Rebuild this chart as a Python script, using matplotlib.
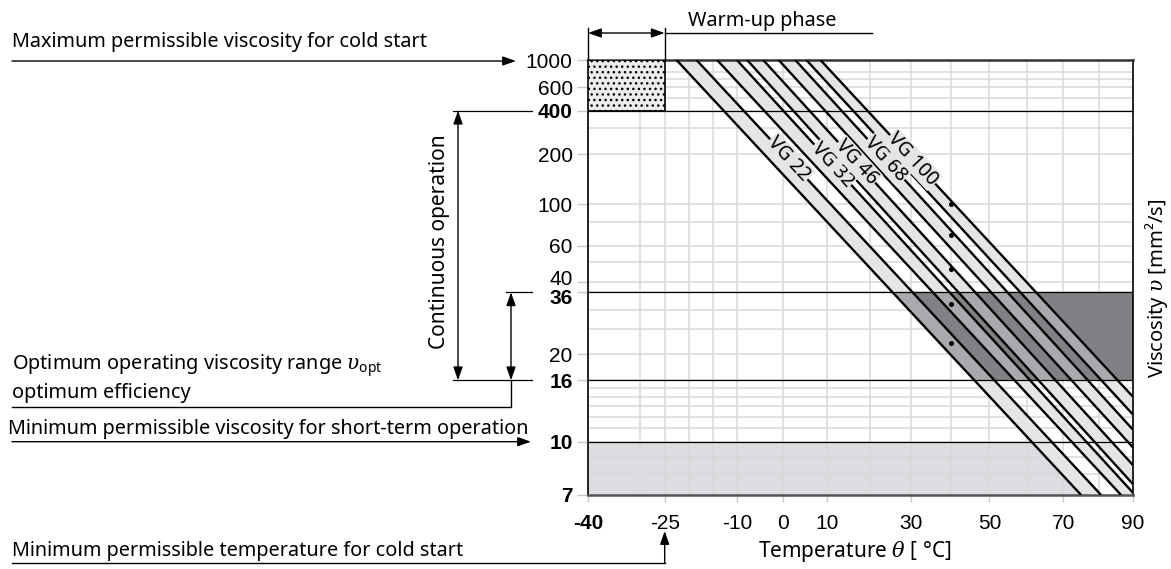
import numpy as np
import matplotlib
matplotlib.use('Agg')
import matplotlib.pyplot as plt
import matplotlib.transforms as mtransforms
from matplotlib.lines import Line2D
from matplotlib.patches import Polygon, FancyArrowPatch

plt.rcParams['font.family'] = ['Noto Sans', 'DejaVu Sans']
plt.rcParams['mathtext.fontset'] = 'custom'
plt.rcParams['mathtext.rm'] = 'Noto Sans'
plt.rcParams['mathtext.sf'] = 'Noto Sans'
plt.rcParams['mathtext.it'] = 'DejaVu Serif:italic'
plt.rcParams['mathtext.bf'] = 'Noto Sans:bold'
plt.rcParams['hatch.linewidth'] = 1.0

# ---- data ----
vg_names = ['VG 22', 'VG 32', 'VG 46', 'VG 68', 'VG 100']
vg_nominal = [22, 32, 46, 68, 100]          # dots at 40 C
dot_temp = 40

# each grade is a band between a lower and an upper edge line
# edge leaves the top of the chart (1000 mm2/s) at this temperature
lo_top = [-22.6, -14.2, -7.8, -0.9, 5.3]
hi_top = [-18.5, -10.0, -4.3, 2.8, 8.5]
# and ends here (temperature, viscosity)
lo_end_t = [75.0, 86.5, 90, 90, 90]
lo_end_v = [7, 7, 7.5, 9.6, 12.2]
hi_end_t = [80.7, 90, 90, 90, 90]
hi_end_v = [7, 7.1, 8.5, 10.9, 14.0]
label_visc = [186, 172, 178, 186, 186]

visc_ticks = [1000, 600, 400, 200, 100, 60, 40, 36, 20, 16, 10, 7]
visc_bold = [400, 36, 16, 10, 7]
visc_grid = [800, 700, 500, 300, 80, 50, 30, 25, 15, 14, 13, 12, 11, 9, 8]
temp_ticks = [-40, -25, -10, 0, 10, 30, 50, 70, 90]
temp_grid = [-30, -20, -15, 20, 40, 60, 80]

v_cold_max = 1000
v_cont_max = 400
v_opt = (16, 36)
v_short_min = 10
v_min = 7
t_min, t_cold, t_max = -40, -25, 90


# Ubbelohde-Walther viscosity scale, log absolute temperature
def walther(v):
    v = np.clip(np.asarray(v, float), 0.35, None)
    return np.log10(np.log10(v + 0.7))


def walther_inv(w):
    return 10 ** (10 ** np.asarray(w, float)) - 0.7


def tlog(t):
    return np.log10(np.clip(np.asarray(t, float), -270, None) + 273.15)


def tlog_inv(u):
    return 10 ** np.asarray(u, float) - 273.15


W, H = 1171, 569
fig = plt.figure(figsize=(W / 100, H / 100), dpi=100)
ax = fig.add_axes([588 / W, 1 - 495 / H, (1133 - 588) / W, (495 - 60) / H])
ax.set_xscale('function', functions=(tlog, tlog_inv))
ax.set_yscale('function', functions=(walther, walther_inv))
ax.set_xlim(t_min, t_max)
ax.set_ylim(v_min, v_cold_max)

# ticks and grid
ax.set_yticks(visc_ticks)
ax.set_yticklabels([str(v) for v in visc_ticks])
ax.set_yticks(visc_grid, minor=True)
ax.set_xticks(temp_ticks)
ax.set_xticklabels([str(t) for t in temp_ticks])
ax.set_xticks(temp_grid, minor=True)
ax.tick_params(which='minor', length=0)
ax.tick_params(axis='y', which='major', length=8, width=1, color='#c8c8c8',
               pad=3, labelsize=15)
ax.tick_params(axis='x', which='major', length=5, width=1, color='#c8c8c8',
               pad=9, labelsize=15)
# small vertical nudges so 40/36 do not collide
nudge = {40: 5, 36: -4}
for tick, v in zip(ax.yaxis.get_major_ticks(), ax.get_yticks()):
    v = int(round(v))
    tick.label1.set_fontfamily('Liberation Sans')
    if v in visc_bold or v == v_cold_max:
        tick.tick1line.set_color('k')
    if v in visc_bold:
        tick.label1.set_fontweight('bold')
    if v in nudge:
        tick.label1.set_transform(tick.label1.get_transform() +
                                  mtransforms.Affine2D().translate(0, nudge[v]))
for tick, t in zip(ax.xaxis.get_major_ticks(), ax.get_xticks()):
    tick.label1.set_fontfamily('Liberation Sans')
    if round(t) == t_min:
        tick.label1.set_fontweight('bold')
        tick.tick1line.set_color('k')
ax.grid(True, which='both', color='#d9d9d9', lw=1.1)
ax.set_axisbelow(True)

for s in ['left', 'right']:
    ax.spines[s].set_color('k')
    ax.spines[s].set_linewidth(1.2)
ax.spines['top'].set_color('#333333')
ax.spines['top'].set_linewidth(1.8)
ax.spines['bottom'].set_color('#555555')
ax.spines['bottom'].set_linewidth(1.8)

# regions left / right of the thinnest oil edge
right_of_first = Polygon([(lo_top[0], v_cold_max), (t_max, v_cold_max), (t_max, v_min),
                          (lo_end_t[0], lo_end_v[0])], transform=ax.transData)
left_of_first = Polygon([(t_min, v_cold_max), (lo_top[0], v_cold_max),
                         (lo_end_t[0], lo_end_v[0]), (t_min, v_min)], transform=ax.transData)
opt_rect = Polygon([(t_min, v_opt[0]), (t_max, v_opt[0]), (t_max, v_opt[1]), (t_min, v_opt[1])],
                   transform=ax.transData)

short = Polygon([(t_min, v_min), (t_max, v_min), (t_max, v_short_min), (t_min, v_short_min)],
                fc='#dcdde0', ec='none', zorder=0.2)
short.set_clip_path(left_of_first)
ax.add_patch(short)

dark = Polygon([(t_min, v_opt[0]), (t_max, v_opt[0]), (t_max, v_opt[1]), (t_min, v_opt[1])],
               fc='#808184', ec='none', zorder=1.5)
dark.set_clip_path(right_of_first)
ax.add_patch(dark)

for i in range(len(vg_names)):
    verts = [(lo_top[i], v_cold_max), (hi_top[i], v_cold_max), (hi_end_t[i], hi_end_v[i])]
    if hi_end_t[i] == t_max and hi_end_v[i] > v_min and lo_end_t[i] < t_max:
        verts.append((t_max, v_min))
    verts.append((lo_end_t[i], lo_end_v[i]))
    ax.add_patch(Polygon(verts, fc='#e4e5e7', ec='none', zorder=1))
    mid = Polygon(verts, fc='#a9aaad', ec='none', zorder=2)
    mid.set_clip_path(opt_rect)
    ax.add_patch(mid)

for v in [v_cont_max, v_opt[1], v_opt[0], v_short_min]:
    ax.axhline(v, color='k', lw=0.9, zorder=2.5)

for i in range(len(vg_names)):
    ax.plot([lo_top[i], lo_end_t[i]], [v_cold_max, lo_end_v[i]], color='k', lw=1.7,
            solid_capstyle='butt', zorder=3)
    ax.plot([hi_top[i], hi_end_t[i]], [v_cold_max, hi_end_v[i]], color='k', lw=1.7,
            solid_capstyle='butt', zorder=3)

ax.plot([dot_temp] * len(vg_nominal), vg_nominal, 'o', ms=2.6, color='k', zorder=4)

# cold start box
ax.add_patch(Polygon([(t_min, v_cont_max), (t_cold, v_cont_max), (t_cold, v_cold_max),
                      (t_min, v_cold_max)], fc='#ececec', ec='k', lw=1.2, hatch='...',
                     zorder=2.6))

# grade labels along the upper edge lines
for i, name in enumerate(vg_names):
    p0 = ax.transData.transform((hi_top[i], v_cold_max))
    p1 = ax.transData.transform((hi_end_t[i], hi_end_v[i]))
    yt = ax.transData.transform((0, label_visc[i]))[1]
    f = (yt - p0[1]) / (p1[1] - p0[1])
    pos = p0 + f * (p1 - p0)
    ang = np.degrees(np.arctan2(p1[1] - p0[1], p1[0] - p0[0]))
    ax.text(pos[0], pos[1], name, transform=mtransforms.IdentityTransform(),
            rotation=ang, rotation_mode='anchor', ha='center', va='center',
            fontsize=14, zorder=5,
            bbox=dict(boxstyle='square,pad=0.05', fc='#e4e5e7', ec='none'))

# ---- annotations outside the axes (image pixel coordinates) ----
T_img = mtransforms.Affine2D().scale(1, -1).translate(0, H)


def yp(v):
    return H - ax.transData.transform((0, v))[1]


def xp(t):
    return ax.transData.transform((t, 10))[0]


def line(xs, ys, lw=1.0):
    fig.add_artist(Line2D(xs, ys, color='k', lw=lw, transform=T_img))


def arrow(a, b, style='-|>'):
    fig.add_artist(FancyArrowPatch(a, b, arrowstyle=style + ',head_length=0.8,head_width=0.28',
                                   mutation_scale=10, color='k', lw=1.0, shrinkA=0, shrinkB=0,
                                   transform=T_img))


def label(x, y, s, **kw):
    kw.setdefault('ha', 'left')
    kw.setdefault('va', 'center')
    kw.setdefault('fontsize', 14.3)
    fig.text(x, y, s, transform=T_img, **kw)


# warm-up phase
label(762, 21, 'Warm-up phase', ha='center')
line([xp(t_cold), 872], [33, 33])
arrow((xp(t_min), 33), (xp(t_cold), 33), '<|-|>')
line([xp(t_min), xp(t_min)], [28, yp(v_cold_max)])
line([xp(t_cold), xp(t_cold)], [28, yp(v_cold_max)])

# maximum viscosity for cold start
label(12, 42, 'Maximum permissible viscosity for cold start')
arrow((12, yp(v_cold_max) + 1), (516, yp(v_cold_max) + 1))

# continuous operation
line([453, 532], [yp(v_cont_max)] * 2, lw=0.9)
line([453, 532], [yp(v_opt[0])] * 2, lw=0.9)
arrow((458, yp(v_cont_max)), (458, yp(v_opt[0])), '<|-|>')
label(440, 242, 'Continuous operation', rotation=90, ha='center', fontsize=15)

# optimum range
line([506, 532], [yp(v_opt[1])] * 2, lw=0.9)
arrow((511, yp(v_opt[1])), (511, yp(v_opt[0])), '<|-|>')
line([511, 511, 12], [yp(v_opt[0]), 407, 407])
label(12, 366, r'Optimum operating viscosity range $\upsilon_{\mathrm{opt}}$')
label(12, 393, 'optimum efficiency')

# minimum viscosity for short-term operation
label(8, 429, 'Minimum permissible viscosity for short-term operation')
arrow((12, yp(v_short_min)), (531, yp(v_short_min)))

# minimum temperature for cold start
label(12, 551, 'Minimum permissible temperature for cold start')
line([12, xp(t_cold)], [563, 563])
arrow((xp(t_cold), 563), (xp(t_cold), 531))

# axis titles
label(855, 551, r'Temperature $\theta$ [ °C]', ha='center', fontsize=15)
label(1157, 288, r'Viscosity $\upsilon$ [mm²/s]', rotation=90, ha='center', fontsize=14.5)

fig.savefig('out.png', dpi=100)
